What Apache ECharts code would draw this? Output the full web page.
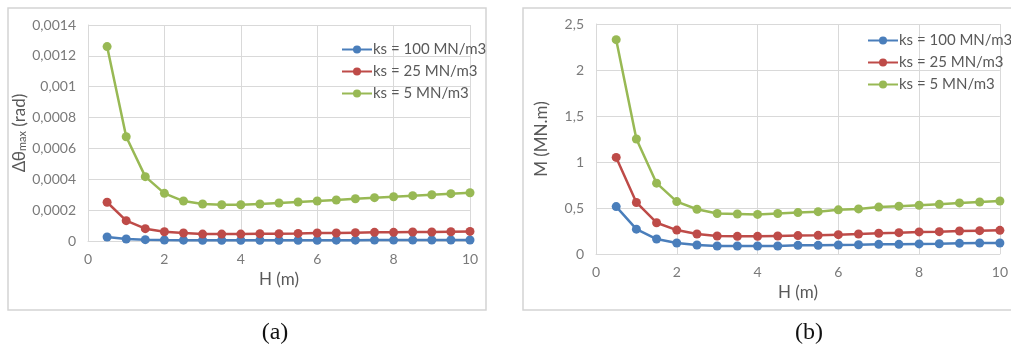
<!DOCTYPE html>
<html>
<head>
<meta charset="utf-8">
<script src="https://cdn.jsdelivr.net/npm/echarts@6/dist/echarts.min.js"></script>
<style>
  html, body { margin: 0; padding: 0; background: #fff; }
  #main { width: 1011px; height: 347px; }
</style>
</head>
<body>
<div id="main"></div>
<script>
// H (m)
var H = [0.5, 1, 1.5, 2, 2.5, 3, 3.5, 4, 4.5, 5, 5.5, 6, 6.5, 7, 7.5, 8, 8.5, 9, 9.5, 10];
var seriesNames = ['ks = 100 MN/m3', 'ks = 25 MN/m3', 'ks = 5 MN/m3'];

// (a) rotation max (rad)
var rotK100 = [0.000026, 0.000013, 0.0000085, 0.0000065, 0.0000055, 0.000005, 0.000005, 0.000005, 0.000005, 0.000005,
               0.000005, 0.0000052, 0.0000055, 0.0000055, 0.0000058, 0.000006, 0.000006, 0.0000062, 0.0000065, 0.0000065];
var rotK25 = [0.000251, 0.000132, 0.00008, 0.00006, 0.000052, 0.000045, 0.000045, 0.000045, 0.000047, 0.000047,
              0.000049, 0.000052, 0.000052, 0.000054, 0.000056, 0.000056, 0.000058, 0.000058, 0.00006, 0.000062];
var rotK5 = [0.00126, 0.000676, 0.000417, 0.000309, 0.000259, 0.00024, 0.000235, 0.000235, 0.00024, 0.000246,
             0.000253, 0.000259, 0.000266, 0.000274, 0.000281, 0.000287, 0.000294, 0.0003, 0.000307, 0.000313];

// (b) moment (MN.m)
var momK100 = [0.515, 0.27, 0.163, 0.12, 0.098, 0.087, 0.087, 0.087, 0.087, 0.094,
               0.094, 0.098, 0.1, 0.105, 0.105, 0.11, 0.112, 0.116, 0.12, 0.12];
var momK25 = [1.05, 0.56, 0.34, 0.26, 0.217, 0.196, 0.192, 0.192, 0.196, 0.2,
              0.203, 0.21, 0.217, 0.225, 0.232, 0.24, 0.243, 0.25, 0.254, 0.257];
var momK5 = [2.33, 1.25, 0.77, 0.57, 0.486, 0.44, 0.435, 0.43, 0.44, 0.45,
             0.46, 0.48, 0.49, 0.51, 0.52, 0.53, 0.54, 0.555, 0.565, 0.576];

var colors = ['#4a7ebb', '#be4b48', '#98b954'];
var txt = '#595959';
var tick = '#7a7a7a';
var gridCol = '#d9d9d9';
var fam = 'Lato, "Open Sans", sans-serif';

function pairs(ys) {
    var out = [];
    for (var i = 0; i < H.length; i++) out.push([H[i], ys[i]]);
    return out;
}
function comma(v) {
    return String(+v.toFixed(4)).replace('.', ',');
}
function xAx(idx, gap) {
    return {
        type: 'value', gridIndex: idx, min: 0, max: 10, interval: 2,
        name: 'H (m)', nameLocation: 'middle', nameGap: gap,
        nameTextStyle: { color: txt, fontSize: 17, fontFamily: fam },
        axisLine: { lineStyle: { color: gridCol } },
        axisTick: { show: false },
        axisLabel: { color: tick, fontSize: 14, fontFamily: fam, margin: 11 },
        splitLine: { show: true, lineStyle: { color: gridCol } }
    };
}
function yAx(idx, max, step, name, gap) {
    return {
        type: 'value', gridIndex: idx, min: 0, max: max, interval: step,
        name: name, nameLocation: 'middle', nameGap: gap, nameRotate: 90,
        nameTextStyle: {
            color: txt, fontSize: 17, fontFamily: fam,
            rich: {
                a: { color: txt, fontSize: 17, fontFamily: fam },
                s: { color: txt, fontSize: 11, fontFamily: fam, verticalAlign: 'bottom', padding: [7, 0, 0, 0] }
            }
        },
        axisLine: { show: true, lineStyle: { color: gridCol } },
        axisTick: { show: false },
        axisLabel: { color: tick, fontSize: 14, fontFamily: fam, margin: 12, formatter: comma },
        splitLine: { show: true, lineStyle: { color: gridCol } }
    };
}
function line(name, data, c, xi) {
    return {
        name: name, type: 'line', xAxisIndex: xi, yAxisIndex: xi,
        data: pairs(data), symbol: 'circle', symbolSize: 9,
        itemStyle: { color: c }, lineStyle: { color: c, width: 2.5 },
        animation: false
    };
}
function legend(left, top, ids) {
    return {
        orient: 'vertical', left: left, top: top, itemGap: 7,
        itemWidth: 30, itemHeight: 10,
        data: ids,
        textStyle: { color: txt, fontSize: 15, fontFamily: fam, padding: [0, 0, 0, -4] }
    };
}

var chart = echarts.init(document.getElementById('main'));
chart.setOption({
    backgroundColor: '#fff',
    color: colors,
    grid: [
        { left: 88, top: 25, width: 382, height: 216 },
        { left: 596, top: 24, width: 407, height: 230 }
    ],
    xAxis: [xAx(0, 25), xAx(1, 27)],
    yAxis: [
        yAx(0, 0.0014, 0.0002, '{a|Δθ}{s|max}{a| (rad)}', 57),
        yAx(1, 2.5, 0.5, 'M (MN.m)', 46)
    ],
    legend: [
        legend(336, 37, seriesNames.map(function (n) { return { name: n }; })),
        legend(862, 28, seriesNames.map(function (n) { return { name: n + ' ' }; }))
    ],
    series: [
        line(seriesNames[0], rotK100, colors[0], 0),
        line(seriesNames[1], rotK25, colors[1], 0),
        line(seriesNames[2], rotK5, colors[2], 0),
        line(seriesNames[0] + ' ', momK100, colors[0], 1),
        line(seriesNames[1] + ' ', momK25, colors[1], 1),
        line(seriesNames[2] + ' ', momK5, colors[2], 1)
    ],
    graphic: [
        { type: 'rect', shape: { x: 8, y: 8, width: 478, height: 302 }, style: { fill: null, stroke: '#d4d4d4', lineWidth: 1.5 }, z: -1 },
        { type: 'rect', shape: { x: 523, y: 8, width: 500, height: 302 }, style: { fill: null, stroke: '#d4d4d4', lineWidth: 1.5 }, z: -1 },
        { type: 'text', x: 275, y: 333, style: { text: '(a)', font: '24px "Liberation Serif", serif', fill: '#111', align: 'center', verticalAlign: 'middle' } },
        { type: 'text', x: 809, y: 333, style: { text: '(b)', font: '24px "Liberation Serif", serif', fill: '#111', align: 'center', verticalAlign: 'middle' } }
    ]
});
</script>
</body>
</html>
